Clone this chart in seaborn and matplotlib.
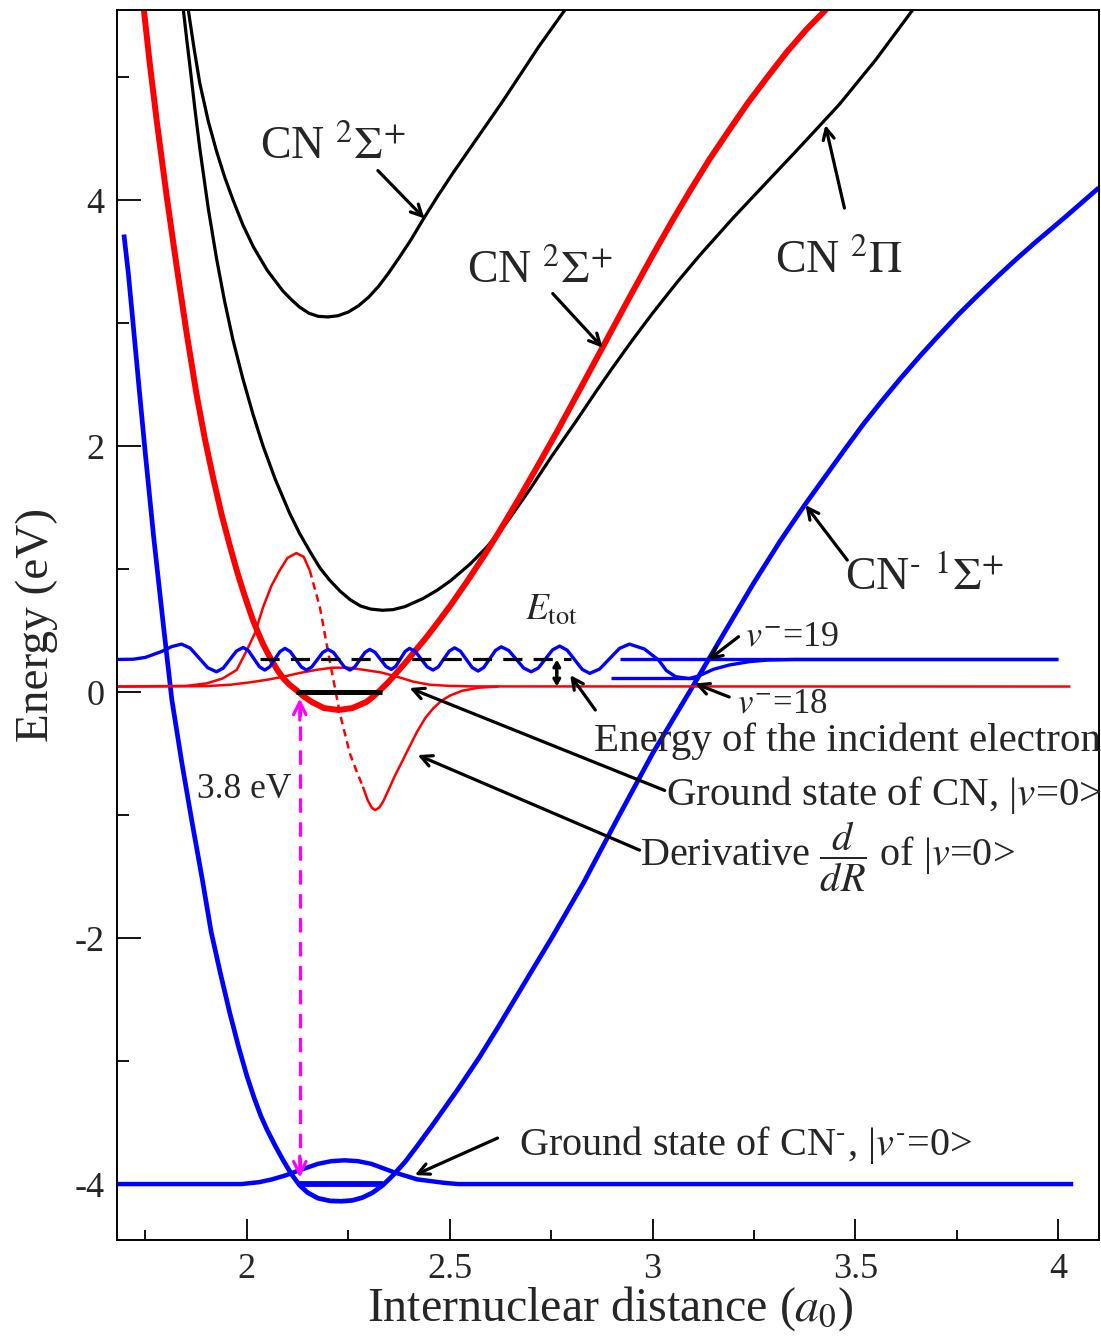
import numpy as np
import matplotlib
matplotlib.use('Agg')
import matplotlib.pyplot as plt
import seaborn as sns

# ---- potential energy curves ----
anion_x = [1.697, 1.708, 1.720, 1.735, 1.750, 1.770, 1.794, 1.815, 1.840, 1.865, 1.890, 1.912,
           1.935, 1.958, 1.980, 2.000, 2.018, 2.035, 2.050, 2.070, 2.090, 2.110, 2.130, 2.150,
           2.175, 2.205, 2.233, 2.260, 2.285, 2.310, 2.335, 2.360, 2.390, 2.420, 2.460, 2.520,
           2.573, 2.620, 2.660, 2.700, 2.753, 2.830, 2.915, 3.000, 3.098, 3.180, 3.250, 3.315,
           3.377, 3.471, 3.520, 3.566, 3.610, 3.660, 3.700, 3.754, 3.800, 3.849, 3.895, 3.943,
           4.020, 4.100]
anion_y = [3.72, 3.40, 2.98, 2.45, 1.93, 1.27, 0.55, -0.06, -0.58, -1.06, -1.52, -1.95,
           -2.29, -2.61, -2.89, -3.12, -3.30, -3.45, -3.56, -3.69, -3.81, -3.92, -4.01, -4.07,
           -4.115, -4.137, -4.14, -4.133, -4.11, -4.07, -4.01, -3.93, -3.82, -3.69, -3.51, -3.23,
           -2.97, -2.72, -2.50, -2.28, -1.99, -1.55, -1.02, -0.50, 0.04, 0.50, 0.89, 1.23,
           1.53, 1.96, 2.18, 2.37, 2.545, 2.735, 2.88, 3.07, 3.22, 3.375, 3.515, 3.655,
           3.87, 4.10]

xstate_x = [1.746, 1.760, 1.778, 1.802, 1.827, 1.851, 1.876, 1.897, 1.917, 1.938, 1.958, 1.975,
            1.990, 2.003, 2.015, 2.028, 2.040, 2.050, 2.060, 2.075, 2.089, 2.105, 2.122, 2.140,
            2.160, 2.190, 2.226, 2.260, 2.295, 2.312, 2.329, 2.350, 2.370, 2.395, 2.416, 2.440,
            2.460, 2.502, 2.545, 2.589, 2.623, 2.670, 2.717, 2.765, 2.811, 2.878, 2.940, 3.000,
            3.050, 3.095, 3.140, 3.189, 3.235, 3.283, 3.330, 3.380, 3.431]
xstate_y = [5.55, 5.13, 4.64, 4.04, 3.46, 2.93, 2.42, 2.05, 1.74, 1.44, 1.19, 0.99,
            0.83, 0.70, 0.585, 0.48, 0.39, 0.325, 0.265, 0.18, 0.115, 0.06, 0.016, -0.035,
            -0.08, -0.13, -0.146, -0.13, -0.08, -0.035, 0.016, 0.085, 0.16, 0.255, 0.34, 0.435,
            0.52, 0.705, 0.91, 1.13, 1.31, 1.57, 1.84, 2.12, 2.40, 2.81, 3.19, 3.55,
            3.84, 4.09, 4.33, 4.57, 4.79, 5.00, 5.20, 5.39, 5.56]

bstate_x = [1.855, 1.870, 1.884, 1.905, 1.925, 1.945, 1.966, 1.990, 2.016, 2.050, 2.089, 2.110,
            2.130, 2.153, 2.176, 2.200, 2.225, 2.250, 2.275, 2.300, 2.325, 2.350, 2.375, 2.405,
            2.434, 2.470, 2.508, 2.550, 2.590, 2.630, 2.664, 2.720, 2.787]
bstate_y = [5.56, 5.23, 4.95, 4.64, 4.40, 4.19, 4.00, 3.80, 3.62, 3.43, 3.26, 3.19,
            3.13, 3.08, 3.055, 3.05, 3.06, 3.09, 3.14, 3.21, 3.30, 3.41, 3.53, 3.68,
            3.84, 4.03, 4.22, 4.42, 4.61, 4.80, 4.97, 5.25, 5.56]

pi_x = [1.843, 1.852, 1.860, 1.872, 1.884, 1.905, 1.925, 1.945, 1.966, 1.990, 2.015, 2.040,
        2.070, 2.106, 2.130, 2.156, 2.180, 2.204, 2.230, 2.255, 2.280, 2.305, 2.334, 2.360,
        2.390, 2.434, 2.470, 2.502, 2.550, 2.589, 2.623, 2.660, 2.700, 2.750, 2.811, 2.860,
        2.900, 2.950, 3.000, 3.060, 3.116, 3.200, 3.280, 3.360, 3.419, 3.461, 3.550, 3.641]
pi_y = [5.56, 5.30, 5.08, 4.74, 4.42, 3.93, 3.53, 3.18, 2.86, 2.55, 2.26, 2.00,
        1.73, 1.45, 1.29, 1.14, 1.01, 0.91, 0.82, 0.75, 0.70, 0.675, 0.665, 0.67,
        0.695, 0.76, 0.83, 0.905, 1.04, 1.17, 1.30, 1.47, 1.66, 1.91, 2.20, 2.44,
        2.63, 2.86, 3.08, 3.33, 3.55, 3.86, 4.14, 4.42, 4.63, 4.78, 5.14, 5.545]

# ---- wavefunctions ----
gs_x = [1.68, 1.90, 1.96, 2.01, 2.05, 2.09, 2.13, 2.17, 2.21, 2.25, 2.29, 2.33, 2.37, 2.41,
        2.45, 2.50, 2.56, 4.03]
gs_y = [0.045, 0.048, 0.06, 0.08, 0.10, 0.125, 0.155, 0.18, 0.198, 0.198, 0.18, 0.16, 0.125,
        0.085, 0.06, 0.05, 0.046, 0.045]

der_x = [1.68, 1.85, 1.90, 1.94, 1.975, 2.000, 2.020, 2.040, 2.060, 2.081, 2.100, 2.122, 2.140,
         2.155, 2.180, 2.204, 2.229, 2.254, 2.270, 2.286, 2.298, 2.308, 2.316, 2.326, 2.336,
         2.350, 2.365, 2.385, 2.400, 2.420, 2.440, 2.460, 2.480, 2.500, 2.530, 2.570, 2.620]
der_y = [0.045, 0.05, 0.07, 0.11, 0.18, 0.34, 0.48, 0.69, 0.86, 0.99, 1.09, 1.13, 1.10,
         0.99, 0.69, 0.26, -0.17, -0.50, -0.64, -0.77, -0.88, -0.94, -0.96, -0.94, -0.89,
         -0.79, -0.68, -0.55, -0.45, -0.32, -0.21, -0.13, -0.07, -0.03, 0.01, 0.035, 0.045]
der_dash = (2.155, 2.286)

wave_x = [1.680, 1.720, 1.750, 1.790, 1.815, 1.839, 1.8605, 1.882, 1.9035, 1.925,
          1.9415, 1.958, 1.9745, 1.991, 2.004, 2.0175, 2.031, 2.044, 2.0565, 2.069, 2.0815, 2.094,
          2.107, 2.1205, 2.134, 2.147, 2.160, 2.1735, 2.187, 2.200, 2.2135, 2.227, 2.2405, 2.254,
          2.266, 2.2785, 2.291, 2.303, 2.316, 2.3295, 2.343, 2.356, 2.367, 2.3785, 2.390, 2.401,
          2.4155, 2.430, 2.4445, 2.459, 2.472, 2.4855, 2.499, 2.512, 2.5265, 2.541, 2.5555, 2.570,
          2.584, 2.5985, 2.613, 2.627, 2.6455, 2.664, 2.6825, 2.701, 2.7185, 2.736, 2.7535, 2.771,
          2.7895, 2.808, 2.8265, 2.845, 2.8695, 2.894, 2.9185, 2.943, 2.980, 3.015, 3.034, 3.057,
          3.090, 3.113, 3.150, 3.189, 3.240, 3.283, 3.350, 4.000]
wave_y = [0.265, 0.267, 0.282, 0.330, 0.370, 0.390, 0.357, 0.2775, 0.198, 0.165,
          0.194, 0.264, 0.334, 0.363, 0.336, 0.271, 0.206, 0.179, 0.205, 0.267, 0.329, 0.355,
          0.329, 0.267, 0.205, 0.179, 0.204, 0.263, 0.322, 0.347, 0.322, 0.263, 0.204, 0.179,
          0.204, 0.263, 0.322, 0.347, 0.323, 0.2655, 0.208, 0.184, 0.209, 0.2695, 0.330, 0.355,
          0.329, 0.267, 0.205, 0.179, 0.205, 0.2695, 0.333, 0.360, 0.332, 0.2655, 0.199, 0.171,
          0.200, 0.2695, 0.339, 0.368, 0.338, 0.2665, 0.195, 0.165, 0.196, 0.2695, 0.343, 0.374,
          0.341, 0.263, 0.185, 0.152, 0.187, 0.271, 0.355, 0.390, 0.350, 0.260, 0.175, 0.125,
          0.110, 0.130, 0.185, 0.220, 0.248, 0.260, 0.265, 0.265]

ags_x = [1.68, 1.987, 2.030, 2.062, 2.095, 2.128, 2.175, 2.208, 2.241, 2.274, 2.307, 2.364,
         2.420, 2.486, 2.520, 4.037]
ags_y = [-4.0, -4.0, -3.985, -3.962, -3.93, -3.89, -3.836, -3.814, -3.807, -3.814, -3.836,
         -3.906, -3.962, -3.99, -4.0, -4.0]

# levels
e_tot = 0.265
e_tot_span = (2.032, 2.80)
v18 = 0.116
v18_span = (2.897, 3.103)
v19_span = (2.919, 4.0)
cn_v0 = 0.0
cn_v0_span = (2.122, 2.332)
an_v0 = -4.0
an_v0_span = (2.128, 2.335)
x_vert = 2.1305

sns.set_style('ticks')
plt.rcParams['font.family'] = ['Liberation Serif', 'DejaVu Serif']
plt.rcParams['mathtext.fontset'] = 'stix'
plt.rcParams['axes.unicode_minus'] = False

fig = plt.figure(figsize=(11.01, 13.42), dpi=100)
ax = fig.add_axes([0.1063, 0.076, 0.8917, 0.9165])

blue, red = '#0000ff', '#ff0000'

def line(x, y, color, lw, **kw):
    sns.lineplot(x=x, y=y, ax=ax, color=color, linewidth=lw, sort=False,
                 estimator=None, **kw)
    ln = ax.lines[-1]
    ln.set_solid_joinstyle('round')
    ln.set_solid_capstyle('butt')
    return ln

line(bstate_x, bstate_y, 'black', 2.3)
line(pi_x, pi_y, 'black', 2.3)
line(xstate_x, xstate_y, red, 4.3)
line(anion_x, anion_y, blue, 3.4)

# CN ground-state wavefunction and its derivative
line(gs_x, gs_y, red, 1.8)
dx = np.array(der_x)
dy = np.array(der_y)
m1 = dx <= der_dash[0]
m2 = (dx >= der_dash[0]) & (dx <= der_dash[1])
m3 = dx >= der_dash[1]
line(dx[m1], dy[m1], red, 1.8)
ln = line(dx[m2], dy[m2], red, 1.8)
ln.set_dashes([3, 2])
line(dx[m3], dy[m3], red, 1.8)

# anion continuum wavefunction and levels
line(wave_x, wave_y, blue, 2.4)
line(list(v19_span), [e_tot, e_tot], blue, 2.4)
line(list(v18_span), [v18, v18], blue, 2.4)
ln = line(list(e_tot_span), [e_tot, e_tot], 'black', 2.3)
ln.set_dashes([6, 3.5])
line(list(cn_v0_span), [cn_v0, cn_v0], 'black', 3.6)

# anion ground state
line(ags_x, ags_y, blue, 3.2)
line(list(an_v0_span), [an_v0, an_v0], blue, 4.2)

# magenta vertical transition
ln = line([x_vert, x_vert], [cn_v0 - 0.08, an_v0 + 0.08], '#ff00ff', 2.3)
ln.set_dashes([4.5, 3])
hp = dict(arrowstyle='->,head_length=0.9,head_width=0.45', color='#ff00ff', lw=2.3)
ax.annotate('', xy=(x_vert, cn_v0 - 0.03), xytext=(x_vert, cn_v0 - 0.25), arrowprops=hp)
ax.annotate('', xy=(x_vert, an_v0 + 0.03), xytext=(x_vert, an_v0 + 0.25), arrowprops=hp)
ax.text(1.994, -0.86, '3.8 eV', fontsize=25.5, ha='center', va='baseline')

# labels and arrows
ap = dict(arrowstyle='->,head_length=0.8,head_width=0.4', color='black', lw=2.3,
          shrinkA=0, shrinkB=0)

def pointer(tail, head):
    ax.annotate('', xy=head, xytext=tail, arrowprops=ap)

ax.text(2.032, 4.34, r'CN $^{2}\Sigma^{+}$', fontsize=33, va='baseline')
pointer((2.323, 4.24), (2.438, 3.85))
ax.text(2.542, 3.325, r'CN $^{2}\Sigma^{+}$', fontsize=33, va='baseline')
pointer((2.754, 3.24), (2.877, 2.80))
ax.text(3.303, 3.41, r'CN $^{2}\Pi$', fontsize=33, va='baseline')
pointer((3.473, 3.935), (3.426, 4.61))
ax.text(3.475, 0.83, r'CN$^{\text{-}}$ $^{1}\Sigma^{+}$', fontsize=33, va='baseline')
pointer((3.480, 1.073), (3.377, 1.52))

ax.text(2.685, 0.585, r'$E_{\rm tot}$', fontsize=27, va='baseline')
ax.annotate('', xy=(2.764, 0.045), xytext=(2.764, e_tot),
            arrowprops=dict(arrowstyle='<->,head_length=0.35,head_width=0.2', color='black',
                            lw=2.5, shrinkA=0, shrinkB=0))
ax.text(3.227, 0.38, r'$v^{-}$=19', fontsize=26, va='baseline')
pointer((3.212, 0.45), (3.137, 0.26))
ax.text(3.207, -0.165, r'$v^{-}$=18', fontsize=25, va='baseline')
pointer((3.189, -0.04), (3.104, 0.07))
ax.text(2.855, -0.48, 'Energy of the incident electron', fontsize=29.5, va='baseline')
pointer((2.859, -0.146), (2.797, 0.138))
ax.text(3.034, -0.92, r'Ground state of CN, |$v$=0>', fontsize=29.5, va='baseline')
pointer((3.03, -0.80), (2.401, 0.033))
ax.text(2.968, -1.41, r'Derivative $\dfrac{d}{dR}$ of |$v$=0>', fontsize=29, va='baseline')
pointer((2.968, -1.285), (2.421, -0.512))
ax.text(2.672, -3.76, r'Ground state of CN$^{\text{-}}$, |$v^{\text{-}}$=0>', fontsize=29,
        va='baseline')
pointer((2.618, -3.626), (2.414, -3.927))

# axes
ax.set_xlim(1.68, 4.1)
ax.set_ylim(-4.455, 5.545)
ax.set_xticks([2, 2.5, 3, 3.5, 4])
ax.set_xticklabels(['2', '2.5', '3', '3.5', '4'])
ax.set_xticks([1.75, 2.25, 2.75, 3.25, 3.75], minor=True)
ax.set_yticks([-4, -2, 0, 2, 4])
ax.set_yticklabels(['-4', '-2', '0', '2', '4'])
ax.set_yticks([-3, -1, 1, 3, 5], minor=True)
ax.tick_params(which='both', direction='in', top=False, right=False, width=1.3,
               labelsize=26, pad=9, color='black')
ax.tick_params(axis='x', which='major', length=15)
ax.tick_params(axis='x', which='minor', length=7.5)
ax.tick_params(axis='y', which='major', length=17)
ax.tick_params(axis='y', which='minor', length=8.5)
for s in ax.spines.values():
    s.set_linewidth(1.4)
    s.set_color('black')
ax.set_xlabel(r'Internuclear distance ($a_0$)', fontsize=34.5)
ax.set_ylabel('Energy (eV)', fontsize=34)
ax.xaxis.set_label_coords(0.502, -0.036)
ax.yaxis.set_label_coords(-0.060, 0.5)

fig.savefig('out.png', dpi=100)
